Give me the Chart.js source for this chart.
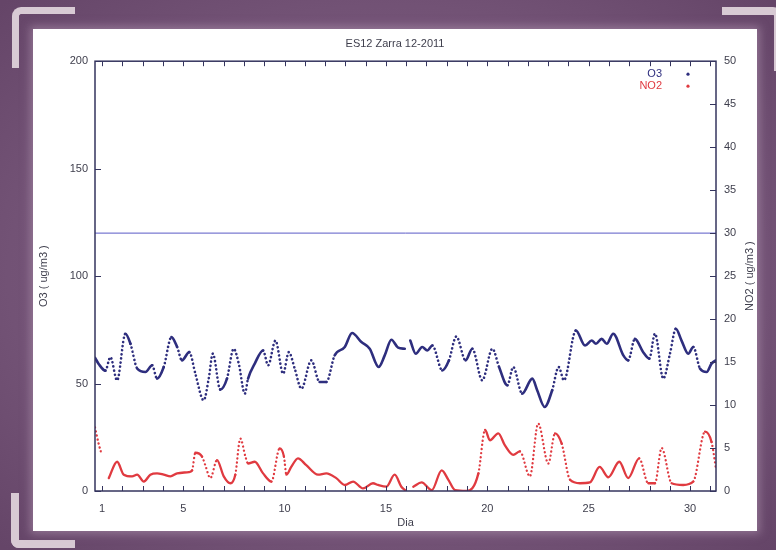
<!DOCTYPE html>
<html>
<head>
<meta charset="utf-8">
<script src="https://cdn.jsdelivr.net/npm/chart.js@4.4.0/dist/chart.umd.min.js"></script>
<style>
    html, body { margin: 0; padding: 0; }
    body {
        width: 776px;
        height: 550px;
        overflow: hidden;
        position: relative;
        background: radial-gradient(ellipse 70% 70% at 50% 50%, #86668a 0%, #725275 70%, #654568 100%);
    }
    .panel {
        position: absolute;
        left: 33px;
        top: 29px;
        width: 724px;
        height: 502px;
        background: #ffffff;
        box-shadow: 0 0 8px 3px rgba(175, 145, 175, 0.55);
    }
    .corner { position: absolute; border: 0 solid #d8cad4; }
    .tl { left: 12px; top: 7px; width: 56px; height: 54px; border-left-width: 7px; border-top-width: 7px; border-top-left-radius: 9px; }
    .tr { left: 722px; top: 7px; width: 52px; height: 56px; border-right-width: 8px; border-top-width: 8px; border-top-right-radius: 9px; }
    .bl { left: 11px; top: 493px; width: 56px; height: 47px; border-left-width: 8px; border-bottom-width: 8px; border-bottom-left-radius: 8px; }
    canvas { position: absolute; left: 0; top: 0; }
</style>
</head>
<body>
<div class="corner tl"></div>
<div class="corner tr"></div>
<div class="corner bl"></div>
<div class="panel">
    <canvas id="chart" width="724" height="502"></canvas>
</div>
<script>
// Values (day of month, ug/m3)
const chartTitle = 'ES12 Zarra 12-2011';
const xTitle = 'Dia';
const yTitle = 'O3 ( ug/m3 )';
const y2Title = 'NO2 ( ug/m3 )';
const xLabels = [1, 5, 10, 15, 20, 25, 30];
const xTickDays = [1, 2, 3, 4, 5, 6, 7, 8, 9, 10, 11, 12, 13, 14, 15, 16, 17, 18, 19, 20, 21, 22, 23, 24, 25, 26, 27, 28, 29, 30, 31];
const o3Limit = 120;

const o3Day = [0.65, 0.84, 1.16, 1.41, 1.74, 2.15, 2.40, 2.73, 3.14, 3.47, 3.71, 4.04, 4.42, 4.70, 4.94, 5.30,
    5.60, 6.01, 6.26, 6.46, 6.83, 7.16, 7.49, 7.74, 8.04, 8.20, 8.53, 8.94, 9.19, 9.55, 9.93, 10.21, 10.50,
    10.83, 11.32, 11.73, 12.06, 12.47, 12.97, 13.33, 13.79, 14.20, 14.64, 14.94, 15.27, 15.60, 15.93, 16.05,
    16.20, 16.47, 16.79, 17.04, 17.29, 17.78, 18.11, 18.47, 18.93, 19.26, 19.75, 20.25, 20.58, 20.99, 21.28,
    21.72, 22.22, 22.46, 22.83, 23.20, 23.52, 23.78, 24.37, 24.82, 25.15, 25.36, 25.64, 25.89, 26.21, 26.71,
    26.95, 27.28, 27.69, 27.99, 28.27, 28.68, 29.01, 29.30, 29.58, 29.91, 30.16, 30.49, 30.82, 31.06, 31.28];
const o3Val = [62, 59, 56, 62.3, 51.5, 73.2, 68.5, 57, 55.4, 58.5, 52.3, 57.7, 71.6, 67, 60.8, 64.6,
    54.6, 42.2, 52.3, 63.9, 47.2, 52.3, 66.2, 59.3, 45.3, 52.3, 59.3, 65.4, 58.5, 70, 54.6, 64.6, 57,
    47.6, 60.8, 50.7, 50.7, 63.1, 67, 73.5, 69.3, 66.2, 57.7, 63.1, 70.4, 66.7, 66.2, null,
    70, 63.9, 67, 65.4, 67.7, 56.1, 60.8, 71.9, 60.8, 66.2, 51.5, 66.2, 57.7, 49.2, 57.7,
    45.3, 52.3, 46.9, 39.1, 46.9, 57.7, 51.5, 74.7, 67.7, 70, 68.5, 70.8, 68.5, 73.2, 63.1,
    60.8, 70.8, 64.6, 61.6, 73.2, 52.3, 63.9, 75.5, 70, 63.9, 67, 57, 55.4, 59.3, 60.8];

const no2Day = [0.65, 0.83, 0.99, 1.15, 1.33, 1.74, 2.07, 2.48, 2.73, 3.06, 3.38, 3.71, 4.04, 4.37, 4.70,
    5.28, 5.44, 5.60, 5.93, 6.09, 6.34, 6.67, 7.00, 7.33, 7.57, 7.82, 8.07, 8.20, 8.53, 8.94, 9.35, 9.76,
    9.97, 10.09, 10.33, 10.66, 11.07, 11.65, 12.06, 12.55, 12.97, 13.38, 13.87, 14.36, 14.61, 15.02, 15.43,
    15.76, 15.94, 16.10, 16.35, 16.76, 17.26, 17.75, 18.08, 18.41, 18.98, 19.56, 19.89, 20.13, 20.54, 20.87,
    21.28, 21.61, 22.10, 22.51, 23.01, 23.34, 23.67, 24.08, 24.57, 25.06, 25.54, 25.97, 26.51, 26.95, 27.49,
    27.94, 28.27, 28.60, 29.09, 29.66, 30.16, 30.74, 31.06, 31.28];
const no2Val = [7.4, 5.5, 4.2, null, 1.5, 3.4, 1.9, 1.7, 1.9, 1.1, 1.9, 2.05, 1.9, 1.7, 2.05,
    2.2, 2.4, 4.45, 4.0, 3.0, 1.5, 3.6, 1.7, 0.9, 1.9, 6.1, 4.0, 3.2, 3.4, 2.05, 1.1, 4.95,
    4.0, 1.9, 2.8, 3.8, 3.0, 1.9, 2.05, 1.5, 0.7, 1.1, 0.3, 0.9, 0.7, 0.5, 1.9,
    0.5, 0.1, null, 0.5, 1.0, 0.1, 2.4, 1.3, 0.1, 0.0, 2.05, 7.1, 5.9, 6.7, 5.3,
    4.2, 4.6, 1.7, 7.85, 3.2, 6.7, 5.5, 1.3, 0.9, 1.0, 2.8, 1.6, 3.4, 1.5, 3.8,
    0.9, 0.9, 5.0, 0.9, 0.7, 1.1, 6.9, 5.7, 2.6];

const xMin = 0.65;
const xMax = 31.28;

const o3Color = '#2e2e7e';
const no2Color = '#e03a40';
const limitColor = '#5a5ac6';
const axisColor = '#34345e';
const textColor = '#3e3e4c';
const fontFamily = '"Liberation Sans", Arial, Helvetica, sans-serif';

const toPoints = (days, vals) => days.map((d, i) => ({ x: d, y: vals[i] }));

// hourly dots spread apart where the curve is steep: draw those stretches dotted
const steepDots = (ctx) => {
    const dx = Math.abs(ctx.p1.x - ctx.p0.x) || 0.01;
    const dy = Math.abs(ctx.p1.y - ctx.p0.y);
    return dy / dx > 2.5 ? [0.1, 4] : undefined;
};

// gnuplot style frame: border, inward ticks, legend inside, y2 label
const framePlugin = {
    id: 'frame',
    afterDraw(chart) {
        const { ctx, chartArea: a, scales } = chart;
        ctx.save();
        ctx.strokeStyle = axisColor;
        ctx.lineWidth = 1.5;
        ctx.strokeRect(a.left, a.top, a.width, a.height);

        ctx.lineWidth = 1;
        ctx.beginPath();
        scales.x.ticks.forEach((t) => {
            const px = Math.round(scales.x.getPixelForValue(t.value)) + 0.5;
            ctx.moveTo(px, a.bottom);
            ctx.lineTo(px, a.bottom - 5);
            ctx.moveTo(px, a.top);
            ctx.lineTo(px, a.top + 5);
        });
        scales.y.ticks.forEach((t) => {
            const py = Math.round(scales.y.getPixelForValue(t.value)) + 0.5;
            ctx.moveTo(a.left, py);
            ctx.lineTo(a.left + 6, py);
        });
        scales.y2.ticks.forEach((t) => {
            const py = Math.round(scales.y2.getPixelForValue(t.value)) + 0.5;
            ctx.moveTo(a.right, py);
            ctx.lineTo(a.right - 6, py);
        });
        ctx.stroke();

        // legend (top right, inside the plot)
        ctx.font = '11px ' + fontFamily;
        ctx.textAlign = 'right';
        ctx.textBaseline = 'middle';
        const series = chart.data.datasets.filter((ds) => ds.label);
        series.forEach((ds, i) => {
            const ly = a.top + 13 + i * 12;
            ctx.fillStyle = ds.borderColor;
            ctx.fillText(ds.label, a.right - 54, ly);
            ctx.beginPath();
            ctx.arc(a.right - 28, ly, 1.6, 0, Math.PI * 2);
            ctx.fill();
        });

        // right axis title, reading bottom to top like the left one
        ctx.fillStyle = textColor;
        ctx.textAlign = 'center';
        ctx.translate(a.right + 34, (a.top + a.bottom) / 2);
        ctx.rotate(-Math.PI / 2);
        ctx.fillText(y2Title, 0, 0);
        ctx.restore();
    },
};

const tickFont = { family: fontFamily, size: 11 };

new Chart(document.getElementById('chart'), {
    type: 'line',
    data: {
        datasets: [
            {
                data: [{ x: xMin, y: o3Limit }, { x: xMax, y: o3Limit }],
                yAxisID: 'y',
                borderColor: limitColor,
                borderWidth: 1,
                pointRadius: 0,
            },
            {
                label: 'O3',
                data: toPoints(o3Day, o3Val),
                yAxisID: 'y',
                borderColor: o3Color,
                borderWidth: 2.6,
                borderCapStyle: 'round',
                pointRadius: 0,
                cubicInterpolationMode: 'monotone',
                spanGaps: false,
                segment: { borderDash: steepDots },
            },
            {
                label: 'NO2',
                data: toPoints(no2Day, no2Val),
                yAxisID: 'y2',
                borderColor: no2Color,
                borderWidth: 2.3,
                borderCapStyle: 'round',
                pointRadius: 0,
                cubicInterpolationMode: 'monotone',
                spanGaps: false,
                segment: { borderDash: steepDots },
            },
        ],
    },
    options: {
        responsive: false,
        animation: false,
        layout: { padding: 0 },
        plugins: {
            legend: { display: false },
            tooltip: { enabled: false },
            title: {
                display: true,
                text: chartTitle,
                color: textColor,
                font: { family: fontFamily, size: 11, weight: 'normal' },
                padding: { top: 8, bottom: 11 },
            },
        },
        scales: {
            x: {
                type: 'linear',
                min: xMin,
                max: xMax,
                afterBuildTicks: (scale) => {
                    scale.ticks = xTickDays.map((v) => ({ value: v }));
                },
                afterFit: (scale) => {
                    scale.height = 40;
                },
                ticks: {
                    autoSkip: false,
                    maxRotation: 0,
                    padding: 11,
                    color: textColor,
                    font: tickFont,
                    callback: (v) => (xLabels.includes(v) ? String(v) : ''),
                },
                grid: { display: false, drawTicks: false },
                border: { display: false },
                title: {
                    display: true,
                    text: xTitle,
                    color: textColor,
                    font: { family: fontFamily, size: 11 },
                    padding: { top: 1, bottom: 1 },
                },
            },
            y: {
                position: 'left',
                min: 0,
                max: 200,
                afterFit: (scale) => {
                    scale.width = 62;
                },
                ticks: { stepSize: 50, padding: 7, color: textColor, font: tickFont },
                grid: { display: false, drawTicks: false },
                border: { display: false },
                title: {
                    display: true,
                    text: yTitle,
                    color: textColor,
                    font: { family: fontFamily, size: 11 },
                    padding: { top: 4, bottom: 4 },
                },
            },
            y2: {
                position: 'right',
                min: 0,
                max: 50,
                afterFit: (scale) => {
                    scale.width = 41;
                },
                ticks: { stepSize: 5, padding: 8, color: textColor, font: tickFont },
                grid: { display: false, drawTicks: false },
                border: { display: false },
            },
        },
    },
    plugins: [framePlugin],
});
</script>
</body>
</html>
